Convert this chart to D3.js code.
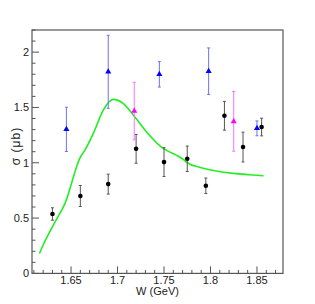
<!DOCTYPE html>
<html><head><meta charset="utf-8">
<script src="https://cdn.jsdelivr.net/npm/d3@7"></script>
<style>body{margin:0;background:#fff}svg{display:block}text{font-family:"Liberation Sans",Arial,sans-serif}</style>
</head><body><svg id="c" width="315" height="304"></svg>
<script>
// black circles
const blackW   = [1.630, 1.660, 1.690, 1.720, 1.750, 1.775, 1.795, 1.815, 1.835, 1.855];
const blackVal = [0.537, 0.700, 0.807, 1.126, 1.006, 1.036, 0.792, 1.425, 1.142, 1.323];
const blackErr = [0.056, 0.095, 0.090, 0.130, 0.130, 0.115, 0.070, 0.130, 0.135, 0.080];
// blue triangles
const blueW    = [1.645, 1.690, 1.745, 1.798, 1.850];
const blueVal  = [1.302, 1.822, 1.799, 1.828, 1.311];
const blueErr  = [0.200, 0.330, 0.115, 0.210, 0.067];
// magenta triangles
const magW     = [1.718, 1.825];
const magVal   = [1.467, 1.374];
const magErr   = [0.260, 0.270];
// green model curve
const curveW   = [1.616, 1.620, 1.631, 1.635, 1.6435, 1.656, 1.6585, 1.665, 1.674, 1.6847, 1.6954, 1.706, 1.717, 1.731, 1.746, 1.7707, 1.775, 1.789, 1.806, 1.8245, 1.842, 1.857];
const curveVal = [0.180, 0.257, 0.437, 0.498, 0.633, 0.964, 1.024, 1.115, 1.266, 1.476, 1.573, 1.537, 1.431, 1.280, 1.150, 1.030, 1.000, 0.958, 0.925, 0.904, 0.892, 0.883];
const xTicks = [1.65, 1.7, 1.75, 1.8, 1.85];
const yTicks = [0, 0.5, 1, 1.5, 2];

const svg = d3.select("#c");
const L = 32, R = 283, T = 30, B = 273.4;
const x = d3.scaleLinear().domain([1.608, 1.878]).range([L, R]);
const y = d3.scaleLinear().domain([0, 2.2]).range([B, T]);
const axisCol = "#555";

// minor / major ticks
const xMinor = d3.range(1.61, 1.8785, 0.01);
svg.append("g").selectAll("line").data(xMinor).join("line")
  .attr("x1", d => x(d)).attr("x2", d => x(d))
  .attr("y1", B).attr("y2", d => B - (Math.abs(Math.round(d*100)%5) === 0 ? 7 : 3.5))
  .attr("stroke", axisCol).attr("stroke-width", 1);
const yMinor = d3.range(0, 2.201, 0.1);
svg.append("g").selectAll("line").data(yMinor).join("line")
  .attr("y1", d => y(d)).attr("y2", d => y(d))
  .attr("x1", L).attr("x2", d => L + (Math.round(d*10)%5 === 0 ? 7 : 3.5))
  .attr("stroke", axisCol).attr("stroke-width", 1);

svg.append("rect").attr("x", L).attr("y", T).attr("width", R - L).attr("height", B - T)
  .attr("fill", "none").attr("stroke", axisCol).attr("stroke-width", 1.2);

svg.append("g").selectAll("text").data(xTicks).join("text")
  .attr("x", d => x(d)).attr("y", 284).attr("text-anchor", "middle")
  .attr("font-size", 11).attr("fill", "#222").text(d => d3.format("")(d));
svg.append("g").selectAll("text").data(yTicks).join("text")
  .attr("x", 29).attr("y", d => y(d) + 4).attr("text-anchor", "end")
  .attr("font-size", 11).attr("fill", "#222").text(d => d);

svg.append("text").attr("x", (L + R) / 2).attr("y", 295).attr("text-anchor", "middle")
  .attr("font-size", 11).attr("fill", "#222").text("W (GeV)");
svg.append("text").attr("transform", "translate(19.5,146) rotate(-90)").attr("text-anchor", "middle")
  .attr("font-size", 12).attr("letter-spacing", 1).attr("fill", "#222").text("σ (μb)");

// curve
svg.append("path").datum(curveW.map((w, i) => [w, curveVal[i]]))
  .attr("d", d3.line().x(d => x(d[0])).y(d => y(d[1])).curve(d3.curveMonotoneX))
  .attr("fill", "none").attr("stroke", "#22ee22").attr("stroke-width", 1.6);

function errs(W, V, E, col) {
  const g = svg.append("g").attr("stroke", col).attr("stroke-width", 1);
  W.forEach((w, i) => {
    const cx = x(w), y1 = y(V[i] + E[i]), y2 = y(V[i] - E[i]);
    g.append("line").attr("x1", cx).attr("x2", cx).attr("y1", y1).attr("y2", y2);
    g.append("line").attr("x1", cx - 1.5).attr("x2", cx + 1.5).attr("y1", y1).attr("y2", y1);
    g.append("line").attr("x1", cx - 1.5).attr("x2", cx + 1.5).attr("y1", y2).attr("y2", y2);
  });
}
errs(blackW, blackVal, blackErr, "#555");
errs(blueW, blueVal, blueErr, "#7070ee");
errs(magW, magVal, magErr, "#ff70ff");

svg.append("g").selectAll("circle").data(blackW).join("circle")
  .attr("cx", d => x(d)).attr("cy", (d, i) => y(blackVal[i])).attr("r", 2.3).attr("fill", "#000");
const tri = d3.symbol().type(d3.symbolTriangle).size(16);
svg.append("g").selectAll("path").data(blueW).join("path")
  .attr("transform", (d, i) => `translate(${x(d)},${y(blueVal[i])})`).attr("d", tri).attr("fill", "#0000ff");
svg.append("g").selectAll("path").data(magW).join("path")
  .attr("transform", (d, i) => `translate(${x(d)},${y(magVal[i])})`).attr("d", tri).attr("fill", "#ff00ff");
</script></body></html>
